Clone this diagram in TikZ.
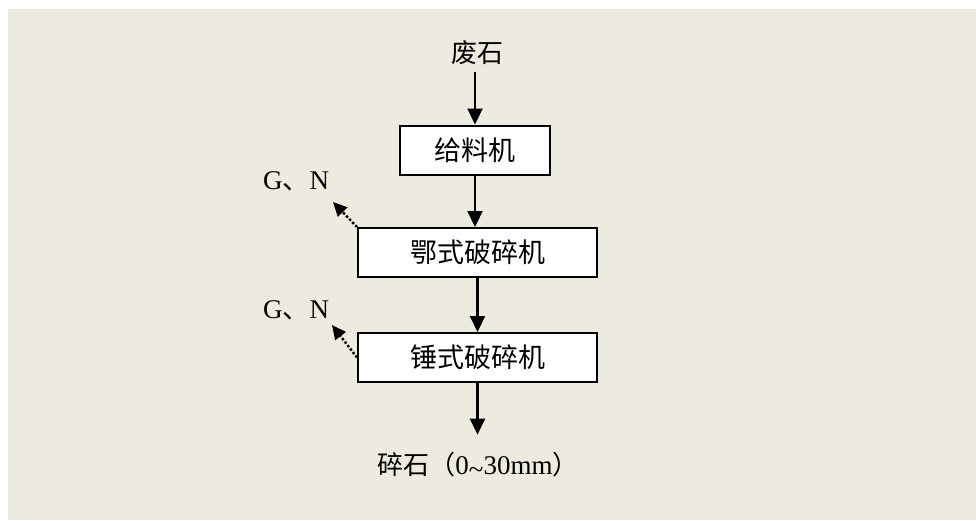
\documentclass[tikz,border=0pt]{standalone}
\usepackage{fontspec}
\setmainfont{Liberation Serif}
\newfontfamily\cjk{Noto Sans CJK SC}
\usetikzlibrary{arrows.meta}
\definecolor{bgbeige}{RGB}{237,234,224}
\tikzset{
  proc/.style={draw=black, line width=2pt, fill=white, minimum height=49pt, inner sep=0pt, font=\fontsize{27}{30}\cjk},
  lbl/.style={inner sep=0pt, font=\fontsize{27}{30}\selectfont},
  arr/.style={line width=2.2pt, -{Triangle[length=16pt,width=15pt]}},
  darr/.style={line width=2.4pt, dotted, -{Triangle[length=14pt,width=13pt]}}
}
\begin{document}
\begin{tikzpicture}[x=1pt,y=-1pt]
\useasboundingbox (0,0) rectangle (976,520);
\fill[white] (0,0) rectangle (976,520);
\fill[bgbeige] (8,9) rectangle (976,520);

\node[lbl, font=\fontsize{26}{29}\cjk] (src) at (477,53) {废石};
\node[proc, minimum width=150pt] (b1) at (475,150) {给料机};
\node[proc, minimum width=239pt] (b2) at (477.5,252.5) {鄂式破碎机};
\node[proc, minimum width=239pt] (b3) at (477.5,357.5) {锤式破碎机};
\node[lbl] (out) at (478,465) {{\cjk\fontsize{26}{29}\selectfont 碎石（}0\raisebox{-0.15em}{\textasciitilde}30mm{\cjk\fontsize{26}{29}\selectfont ）}};
\node[lbl] (gn1) at (296,181) {G{\cjk 、}N};
\node[lbl] (gn2) at (296,310) {G{\cjk 、}N};
\coordinate (t1) at (333,202);
\coordinate (t2) at (332,325);

\draw[arr, shorten <=7pt] (src.south -| b1.north) -- (b1.north);
\draw[arr] (b1.south) -- (b1.south |- b2.north);
\draw[arr] (b2.south) -- (b3.north);
\draw[arr, shorten >=17pt] (b3.south) -- (b3.south |- out.north);
\draw[darr] (b2.north west) -- (t1);
\draw[darr] (b3.west) -- (t2);
\end{tikzpicture}
\end{document}
